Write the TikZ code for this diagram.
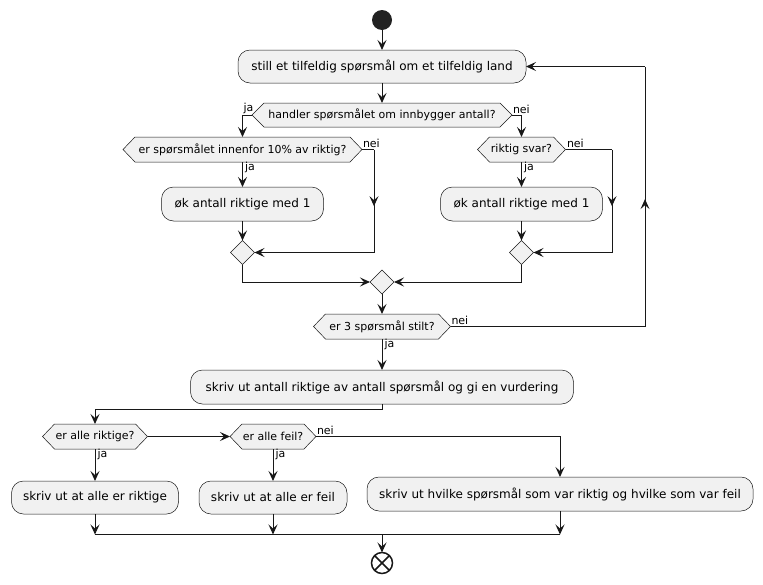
\documentclass[tikz,border=0pt]{standalone}
\usepackage{fontspec}
\setmainfont{DejaVu Sans}
\usetikzlibrary{arrows.meta,shapes.geometric,decorations.markings,backgrounds}
\definecolor{fillc}{HTML}{F1F1F1}
\definecolor{linec}{HTML}{181818}
\definecolor{borderc}{HTML}{181818}
\definecolor{startc}{HTML}{222222}
\newcommand\hexbg[1]{\path[hexfill] (#1.west) -- ([xshift=12pt]#1.north west) -- ([xshift=-12pt]#1.north east) -- (#1.east) -- ([xshift=-12pt]#1.south east) -- ([xshift=12pt]#1.south west) -- cycle;}
\begin{document}
\begin{tikzpicture}[x=1pt,y=-1pt,
  every node/.style={inner sep=0pt, outer sep=0pt},
  act/.style={rectangle, rounded corners=12pt, draw=borderc, line width=0.5pt, fill=fillc, font=\fontsize{12}{14}\selectfont},
  hexn/.style={rectangle, minimum height=25pt, font=\fontsize{11}{13}\selectfont},
  hexfill/.style={draw=borderc, line width=0.5pt, fill=fillc},
  merge/.style={diamond, draw=borderc, line width=0.5pt, fill=fillc, minimum width=24pt, minimum height=24pt},
  lbl/.style={font=\fontsize{11}{13}\selectfont, inner sep=1pt},
  conn/.style={draw=linec, line width=1pt},
  arr/.style={conn, -{Stealth[length=10pt,width=9pt,inset=4pt]}},
  midarr/.style={conn, postaction={decorate}, decoration={markings, mark=at position #1 with {\arrow{Stealth[length=10pt,width=9pt,inset=4pt]}}}},
  midarr/.default=0.55,
]
\useasboundingbox (0,0) rectangle (763,584);

% nodes
\node[circle, fill=startc, minimum size=20pt] (start) at (382,20) {};
\node[act, minimum width=288pt, minimum height=33pt] (b1) at (382,66.5) {still et tilfeldig spørsmål om et tilfeldig land};
\node[hexn, minimum width=260pt, minimum height=24pt] (h1) at (382,115) {handler spørsmålet om innbygger antall?};
\node[hexn, minimum width=239pt] (h2) at (242.5,149.5) {er spørsmålet innenfor 10\% av riktig?};
\node[hexn, minimum width=88pt] (h3) at (521.5,149.5) {riktig svar?};
\node[act, minimum width=162pt, minimum height=34pt] (b2) at (242.5,204) {øk antall riktige med 1};
\node[act, minimum width=162pt, minimum height=34pt] (b3) at (521.5,204) {øk antall riktige med 1};
\node[merge] (d1) at (242.5,252.5) {};
\node[merge] (d2) at (521.5,252.5) {};
\node[merge] (d3) at (382,282) {};
\node[hexn, minimum width=137pt] (h4) at (382,326.5) {er 3 spørsmål stilt?};
\node[act, minimum width=383pt, minimum height=34pt] (b4) at (382,387) {skriv ut antall riktige av antall spørsmål og gi en vurdering};
\node[hexn, minimum width=105pt] (h5) at (95,436.5) {er alle riktige?};
\node[hexn, minimum width=86pt] (h6) at (273,436.5) {er alle feil?};
\node[act, minimum width=167pt, minimum height=33pt] (b5) at (95,497.5) {skriv ut at alle er riktige};
\node[act, minimum width=148pt, minimum height=33pt] (b6) at (273,497.5) {skriv ut at alle er feil};
\node[act, minimum width=386pt, minimum height=34pt] (b7) at (560,494) {skriv ut hvilke spørsmål som var riktig og hvilke som var feil};
\node[circle, draw=linec, line width=1.5pt, minimum size=21pt] (end) at (382,563) {};
\draw[linec, line width=1.5pt] (end.north east) -- (end.south west) (end.north west) -- (end.south east);

% labels
\node[lbl, anchor=south west] (lja1) at (242.5,114.5) {ja};
\node[lbl, anchor=south west] (lnei1) at (512,114.5) {nei};
\node[lbl, anchor=north west] (lja2) at (244,161) {ja};
\node[lbl, anchor=south west] (lnei2) at (362,149) {nei};
\node[lbl, anchor=north west] (lja3) at (523,161) {ja};
\node[lbl, anchor=south west] (lnei3) at (566,149) {nei};
\node[lbl, anchor=south west] (lnei4) at (450.5,326) {nei};
\node[lbl, anchor=north west] (lja4) at (383.5,338) {ja};
\node[lbl, anchor=south west] (lnei6) at (316,436) {nei};
\node[lbl, anchor=north west] (lja5) at (96.5,448) {ja};
\node[lbl, anchor=north west] (lja6) at (274.5,448) {ja};

% coordinates
\coordinate (n1a) at (374,149.5); \coordinate (n1b) at (374,252.5);
\coordinate (n2a) at (612,149.5); \coordinate (n2b) at (612,252.5);
\coordinate (l1) at (645,326.5); \coordinate (l2) at (645,66.5);
\coordinate (s1) at (382,409);
\coordinate (j1) at (95,534.5); \coordinate (j2) at (273,534.5);
\coordinate (j3) at (560,534.5); \coordinate (j0) at (382,534.5);

% connectors
\draw[arr] (start) -- (b1);
\draw[arr] (b1) -- (h1);
\draw[arr] (h1.west) -| (h2.north);
\draw[arr] (h1.east) -| (h3.north);
\draw[arr] (h2) -- (b2);
\draw[arr] (h3) -- (b3);
\draw[conn] (h2.east) -- (n1a);
\draw[midarr] (n1a) -- (n1b);
\draw[arr] (n1b) -- (d1.east);
\draw[conn] (h3.east) -- (n2a);
\draw[midarr] (n2a) -- (n2b);
\draw[arr] (n2b) -- (d2.east);
\draw[arr] (b2) -- (d1);
\draw[arr] (b3) -- (d2);
\draw[arr] (d1.south) |- (d3.west);
\draw[arr] (d2.south) |- (d3.east);
\draw[arr] (d3) -- (h4);
\draw[conn] (h4.east) -- (l1);
\draw[midarr=0.49] (l1) -- (l2);
\draw[arr] (l2) -- (b1.east);
\draw[arr] (h4) -- (b4);
\draw[arr] (b4.south) -- (s1) -| (h5.north);
\draw[arr] (h5.east) -- (h6.west);
\draw[arr] (h6.east) -| (b7.north);
\draw[arr] (h5) -- (b5);
\draw[arr] (h6) -- (b6);
\draw[arr] (b5) -- (j1);
\draw[arr] (b6) -- (j2);
\draw[arr] (b7) -- (j3);
\draw[conn] (j1) -- (j3);
\draw[arr] (j0) -- (end);

\begin{scope}[on background layer]
\fill[white] (0,0) rectangle (763,584);
\foreach \n in {h1,h2,h3,h4,h5,h6} {\hexbg{\n}}
\end{scope}
\end{tikzpicture}
\end{document}
